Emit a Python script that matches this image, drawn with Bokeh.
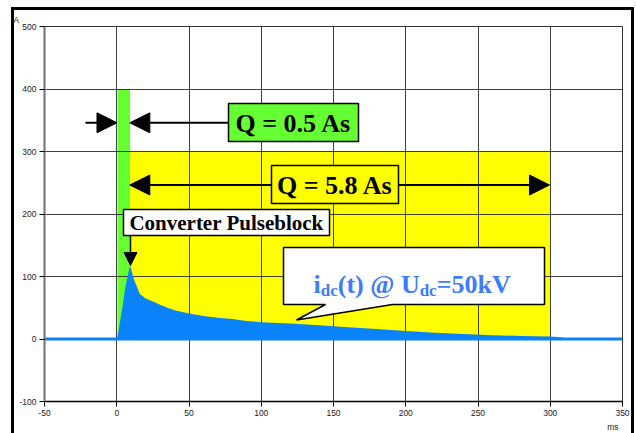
from bokeh.plotting import figure
from bokeh.models import Range1d, FixedTicker, Label, Arrow, NormalHead, Title
from bokeh.embed import file_html
from bokeh.resources import INLINE

# ---------------- data ----------------
t_ms = [-50, 0, 0.5, 4, 6, 9.2, 12, 16, 20, 25, 30, 35, 40, 50, 60, 70, 80, 90,
        100, 120, 140, 160, 180, 200, 220, 240, 260, 280, 300, 310, 350]
i_upper = [2.5, 2.5, 3, 52, 84, 118, 95, 72, 65, 60, 55, 50, 46, 41, 37, 34, 32, 29,
           27, 25, 22, 19, 16, 13, 10, 8, 6, 5, 4, 2.5, 2.5]
i_lower = [-2.5] * len(t_ms)

# charge windows: (start ms, end ms, height A)
q_short = [0.5, 9.2, 400]
q_long = [9.2, 300, 300]
q_labels = ["Q = 0.5 As", "Q = 5.8 As"]

x_ticks = [-50, 0, 50, 100, 150, 200, 250, 300, 350]
x_tick_labels = ["-50", "0", "50", "100", "150", "200", "250", "300", "350"]
y_ticks = [-100, 0, 100, 200, 300, 400, 500]
y_tick_labels = ["-100", "0", "100", "200", "300", "400", "500"]

# ---------------- styling ----------------
BLUE = "#0A82FA"
TEXT_BLUE = "#3D7DFA"
GREEN = "#66FF33"
YELLOW = "#FFFF00"
SERIF = "Liberation Serif"
SANS = "Liberation Sans"

EX, EY = 14, 10           # element position on page (outer frame drawn just outside)
W, H = 617, 423
PX_L, PX_R = 44, 622      # plot frame, page pixels
PY_T, PY_B = 26, 401


def tx(px):
    return -50 + (px - PX_L) * 400.0 / (PX_R - PX_L)


def vy(py):
    return 500 - (py - PY_T) * 600.0 / (PY_B - PY_T)


p = figure(width=W, height=H, x_range=Range1d(-50, 350), y_range=Range1d(-100, 500),
           output_backend="svg", toolbar_location=None,
           min_border_left=PX_L - EX, min_border_right=EX + W - PX_R,
           min_border_top=PY_T - EY, min_border_bottom=EY + H - PY_B)
p.styles = {"margin-left": "%dpx" % EX, "margin-top": "%dpx" % EY,
            "outline": "3px solid black", "outline-offset": "0px"}
p.background_fill_color = "white"
p.border_fill_color = "white"
p.outline_line_color = "#303030"
p.outline_line_width = 1

# unit labels as titles
p.title = Title(text="A", align="left", offset=-(PX_L - 13), standoff=4,
                text_font=SANS, text_font_size="8.5px", text_font_style="normal",
                text_color="#222222")
p.add_layout(Title(text="ms", align="right", offset=4, standoff=3,
                   text_font=SANS, text_font_size="8.5px", text_font_style="normal",
                   text_color="#222222"), "below")

for ax, ticks, labels in ((p.xaxis, x_ticks, x_tick_labels), (p.yaxis, y_ticks, y_tick_labels)):
    ax.ticker = FixedTicker(ticks=ticks)
    ax.major_label_overrides = dict(zip(ticks, labels))
    ax.major_label_text_font = SANS
    ax.major_label_text_font_size = "8.5px"
    ax.major_label_text_color = "#222222"
    ax.major_tick_out = 5
    ax.major_tick_in = 0
    ax.minor_tick_out = 0
    ax.minor_tick_in = 0
    ax.major_tick_line_color = "black"
    ax.major_label_standoff = 3
p.yaxis.axis_line_color = "#707070"
p.yaxis.axis_line_width = 2
p.xaxis.axis_line_color = "black"
p.xaxis.axis_line_width = 1.5

p.grid.grid_line_color = "#202020"
p.grid.grid_line_alpha = 0.85
p.grid.grid_line_width = 1

# charge windows (below grid)
p.quad(left=[q_long[0]], right=[q_long[1]], bottom=[0], top=[q_long[2]],
       fill_color=YELLOW, line_color=None, level="image")
p.quad(left=[q_short[0]], right=[q_short[1]], bottom=[0], top=[q_short[2]],
       fill_color=GREEN, line_color=None, level="image")

# current trace
p.varea(x=t_ms, y1=i_lower, y2=i_upper, fill_color=BLUE)


# ---- annotation boxes ----
def box(x0, x1, y0, y1, color):
    p.quad(left=[tx(x0)], right=[tx(x1)], top=[vy(y0)], bottom=[vy(y1)],
           fill_color=color, line_color="black", line_width=1.5)

box(228, 358, 103, 141, GREEN)
box(271, 398, 165, 203, YELLOW)
box(123, 329, 209, 235, "white")

# speech bubble
bx = [283, 544, 544, 392, 296, 325, 283]
by = [247, 247, 304, 304, 319.5, 304, 304]
p.patch(x=[tx(v) for v in bx], y=[vy(v) for v in by], fill_color="white",
        line_color="black", line_width=1.5)


def arrow(x0, y0, x1, y1, size=20, width=2):
    p.add_layout(Arrow(end=NormalHead(size=size, fill_color="black", line_color="black"),
                       x_start=tx(x0), y_start=vy(y0), x_end=tx(x1), y_end=vy(y1),
                       line_color="black", line_width=width))

arrow(85, 122.3, 116.5, 122.3)
arrow(228, 122.3, 129.3, 122.3)
arrow(271, 184.5, 129.3, 184.5)
arrow(398, 184.5, 549, 184.5)
arrow(130, 235, 130, 265, size=13, width=1.5)


def label(px, py, text, size, color="black", align="center", baseline="middle",
          font=SERIF, style="bold"):
    p.add_layout(Label(x=tx(px), y=vy(py), text=text, text_font=font,
                       text_font_size=size, text_font_style=style, text_color=color,
                       text_align=align, text_baseline=baseline))

label(293, 123, q_labels[0], "26px")
label(334.5, 185, q_labels[1], "26px")
label(226, 222.5, "Converter Pulseblock", "21px")

# i_dc(t) @ U_dc=50kV with subscripts
MAIN, SUB = 26, 17
x = 313.0
pieces = [("i", False, 0.278), ("dc", True, 1.0), ("(t) @ U", False, 3.151),
          ("dc", True, 1.0), ("=50kV", False, 2.848)]
for txt, sub, em in pieces:
    fs = SUB if sub else MAIN
    label(x, 289.5 if sub else 283.5, txt, "%dpx" % fs, color=TEXT_BLUE,
          align="left", baseline="alphabetic")
    x += em * fs

open("out.html", "w").write(file_html(p, INLINE))
